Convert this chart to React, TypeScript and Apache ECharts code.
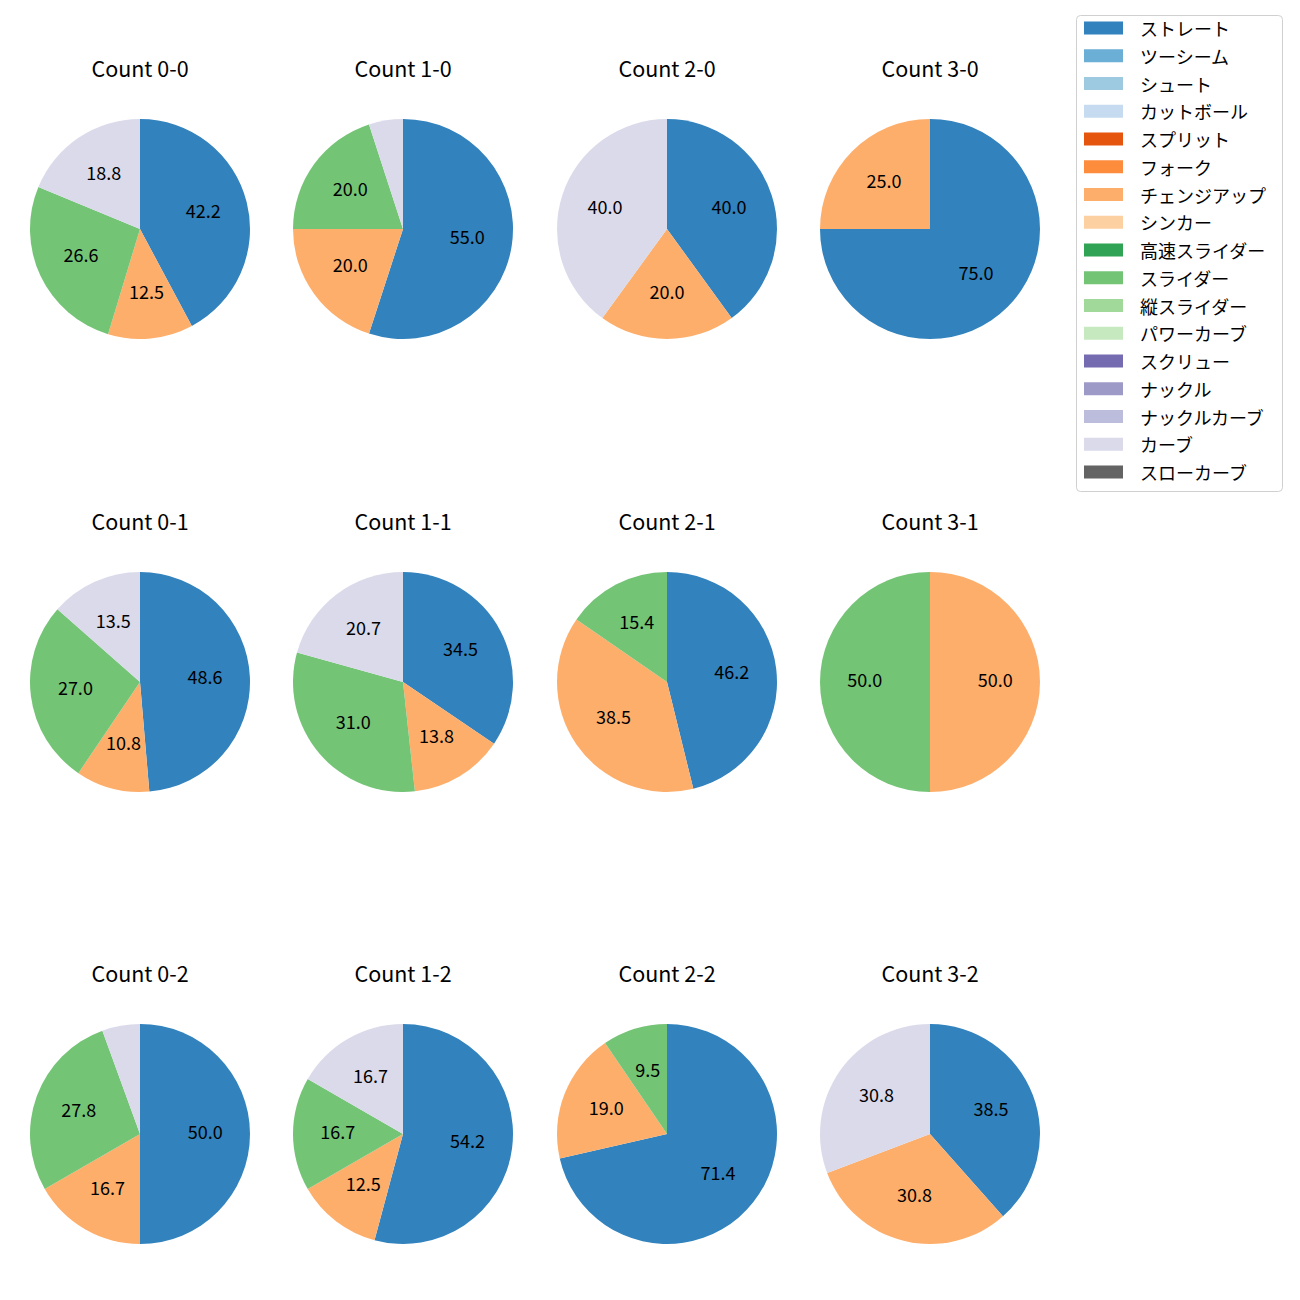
import React, { useEffect, useRef } from "react";
import * as echarts from "echarts";

const pitchTypes = [
  "ストレート", "ツーシーム", "シュート", "カットボール", "スプリット", "フォーク",
  "チェンジアップ", "シンカー", "高速スライダー", "スライダー", "縦スライダー",
  "パワーカーブ", "スクリュー", "ナックル", "ナックルカーブ", "カーブ", "スローカーブ",
];
const pitchColors = [
  "#3182bd", "#6baed6", "#9ecae1", "#c6dbef", "#e6550d", "#fd8d3c",
  "#fdae6b", "#fdd0a2", "#31a354", "#74c476", "#a1d99b", "#c7e9c0",
  "#756bb1", "#9e9ac8", "#bcbddc", "#dadaeb", "#636363",
];

const countLabels = [
  "0-0", "1-0", "2-0", "3-0",
  "0-1", "1-1", "2-1", "3-1",
  "0-2", "1-2", "2-2", "3-2",
];
// pitch counts per count situation, same order as countLabels
const straight = [27, 11, 2, 3, 18, 10, 6, 0, 18, 13, 15, 5];
const changeup = [8, 4, 1, 1, 4, 4, 5, 1, 6, 3, 4, 4];
const slider = [17, 4, 0, 0, 10, 9, 2, 1, 10, 4, 2, 0];
const curve = [12, 1, 2, 0, 5, 6, 0, 0, 2, 4, 0, 4];

const FONT = "'Noto Sans CJK JP', 'Noto Sans', sans-serif";

export default function App() {
  const ref = useRef<HTMLDivElement>(null);
  useEffect(() => {
    document.body.style.margin = "0";
    const chart = echarts.init(ref.current!, null, { renderer: "svg" });
    const colX = [140, 403, 667, 930];
    const rowY = [229, 682, 1134];
    const R = 110;
    const colorOf = (n: string) => pitchColors[pitchTypes.indexOf(n)];

    const series: any[] = [];
    // legend source
    series.push({
      type: "pie",
      radius: [0, 0],
      center: [-100, -100],
      silent: true,
      label: { show: false },
      labelLine: { show: false },
      data: pitchTypes.map((n, i) => ({ name: n, value: 1, itemStyle: { color: pitchColors[i] } })),
    });
    const graphics: any[] = [];
    countLabels.forEach((c, i) => {
      const cx = colX[i % 4];
      const cy = rowY[Math.floor(i / 4)];
      const raw = [
        { name: "ストレート", value: straight[i] },
        { name: "チェンジアップ", value: changeup[i] },
        { name: "スライダー", value: slider[i] },
        { name: "カーブ", value: curve[i] },
      ].filter((d) => d.value > 0);
      const total = raw.reduce((s, d) => s + d.value, 0);
      series.push({
        type: "pie",
        center: [cx, cy],
        radius: [0, R],
        startAngle: 90,
        clockwise: true,
        silent: true,
        avoidLabelOverlap: false,
        label: { show: false },
        labelLine: { show: false },
        emphasis: { disabled: true },
        data: raw.map((d) => ({ ...d, itemStyle: { color: colorOf(d.name), borderWidth: 0 } })),
      });
      series.push({
        type: "pie",
        center: [cx, cy],
        radius: [R * 0.13, R],
        startAngle: 90,
        clockwise: true,
        silent: true,
        avoidLabelOverlap: false,
        emphasis: { disabled: true },
        labelLine: { show: false },
        label: {
          show: true,
          position: "inside",
          offset: [0, -3],
          color: "#000",
          fontSize: 18,
          fontFamily: FONT,
          formatter: (p: any) => {
            const pct = (p.value / total) * 100;
            return pct >= 7 ? pct.toFixed(1) : "";
          },
        },
        data: raw.map((d) => ({ ...d, itemStyle: { color: "rgba(0,0,0,0)", borderWidth: 0 } })),
      });
      graphics.push({
        type: "text",
        x: cx,
        y: cy - 162,
        style: {
          text: "Count " + c,
          fontSize: 21.5,
          fontFamily: FONT,
          fill: "#000",
          textAlign: "center",
          textVerticalAlign: "middle",
        },
      });
    });
    graphics.push({
      type: "rect",
      z: -1,
      shape: { x: 1076.5, y: 15.5, width: 206, height: 476, r: 4 },
      style: { fill: "#fff", stroke: "#d0d0d0", lineWidth: 1 },
    });

    chart.setOption({
      animation: false,
      backgroundColor: "#fff",
      graphic: graphics,
      legend: {
        orient: "vertical",
        left: 1077,
        top: 15,
        padding: [4, 8, 7, 7],
        itemWidth: 39,
        itemHeight: 13,
        itemGap: 9.75,
        icon: "rect",
        selectedMode: false,
        data: pitchTypes,
        textStyle: { fontSize: 18, lineHeight: 18, fontFamily: FONT, color: "#000", padding: [0, 0, 0, 12] },
      },
      series,
    });
    return () => chart.dispose();
  }, []);
  return <div ref={ref} style={{ width: 1300, height: 1300 }} />;
}
